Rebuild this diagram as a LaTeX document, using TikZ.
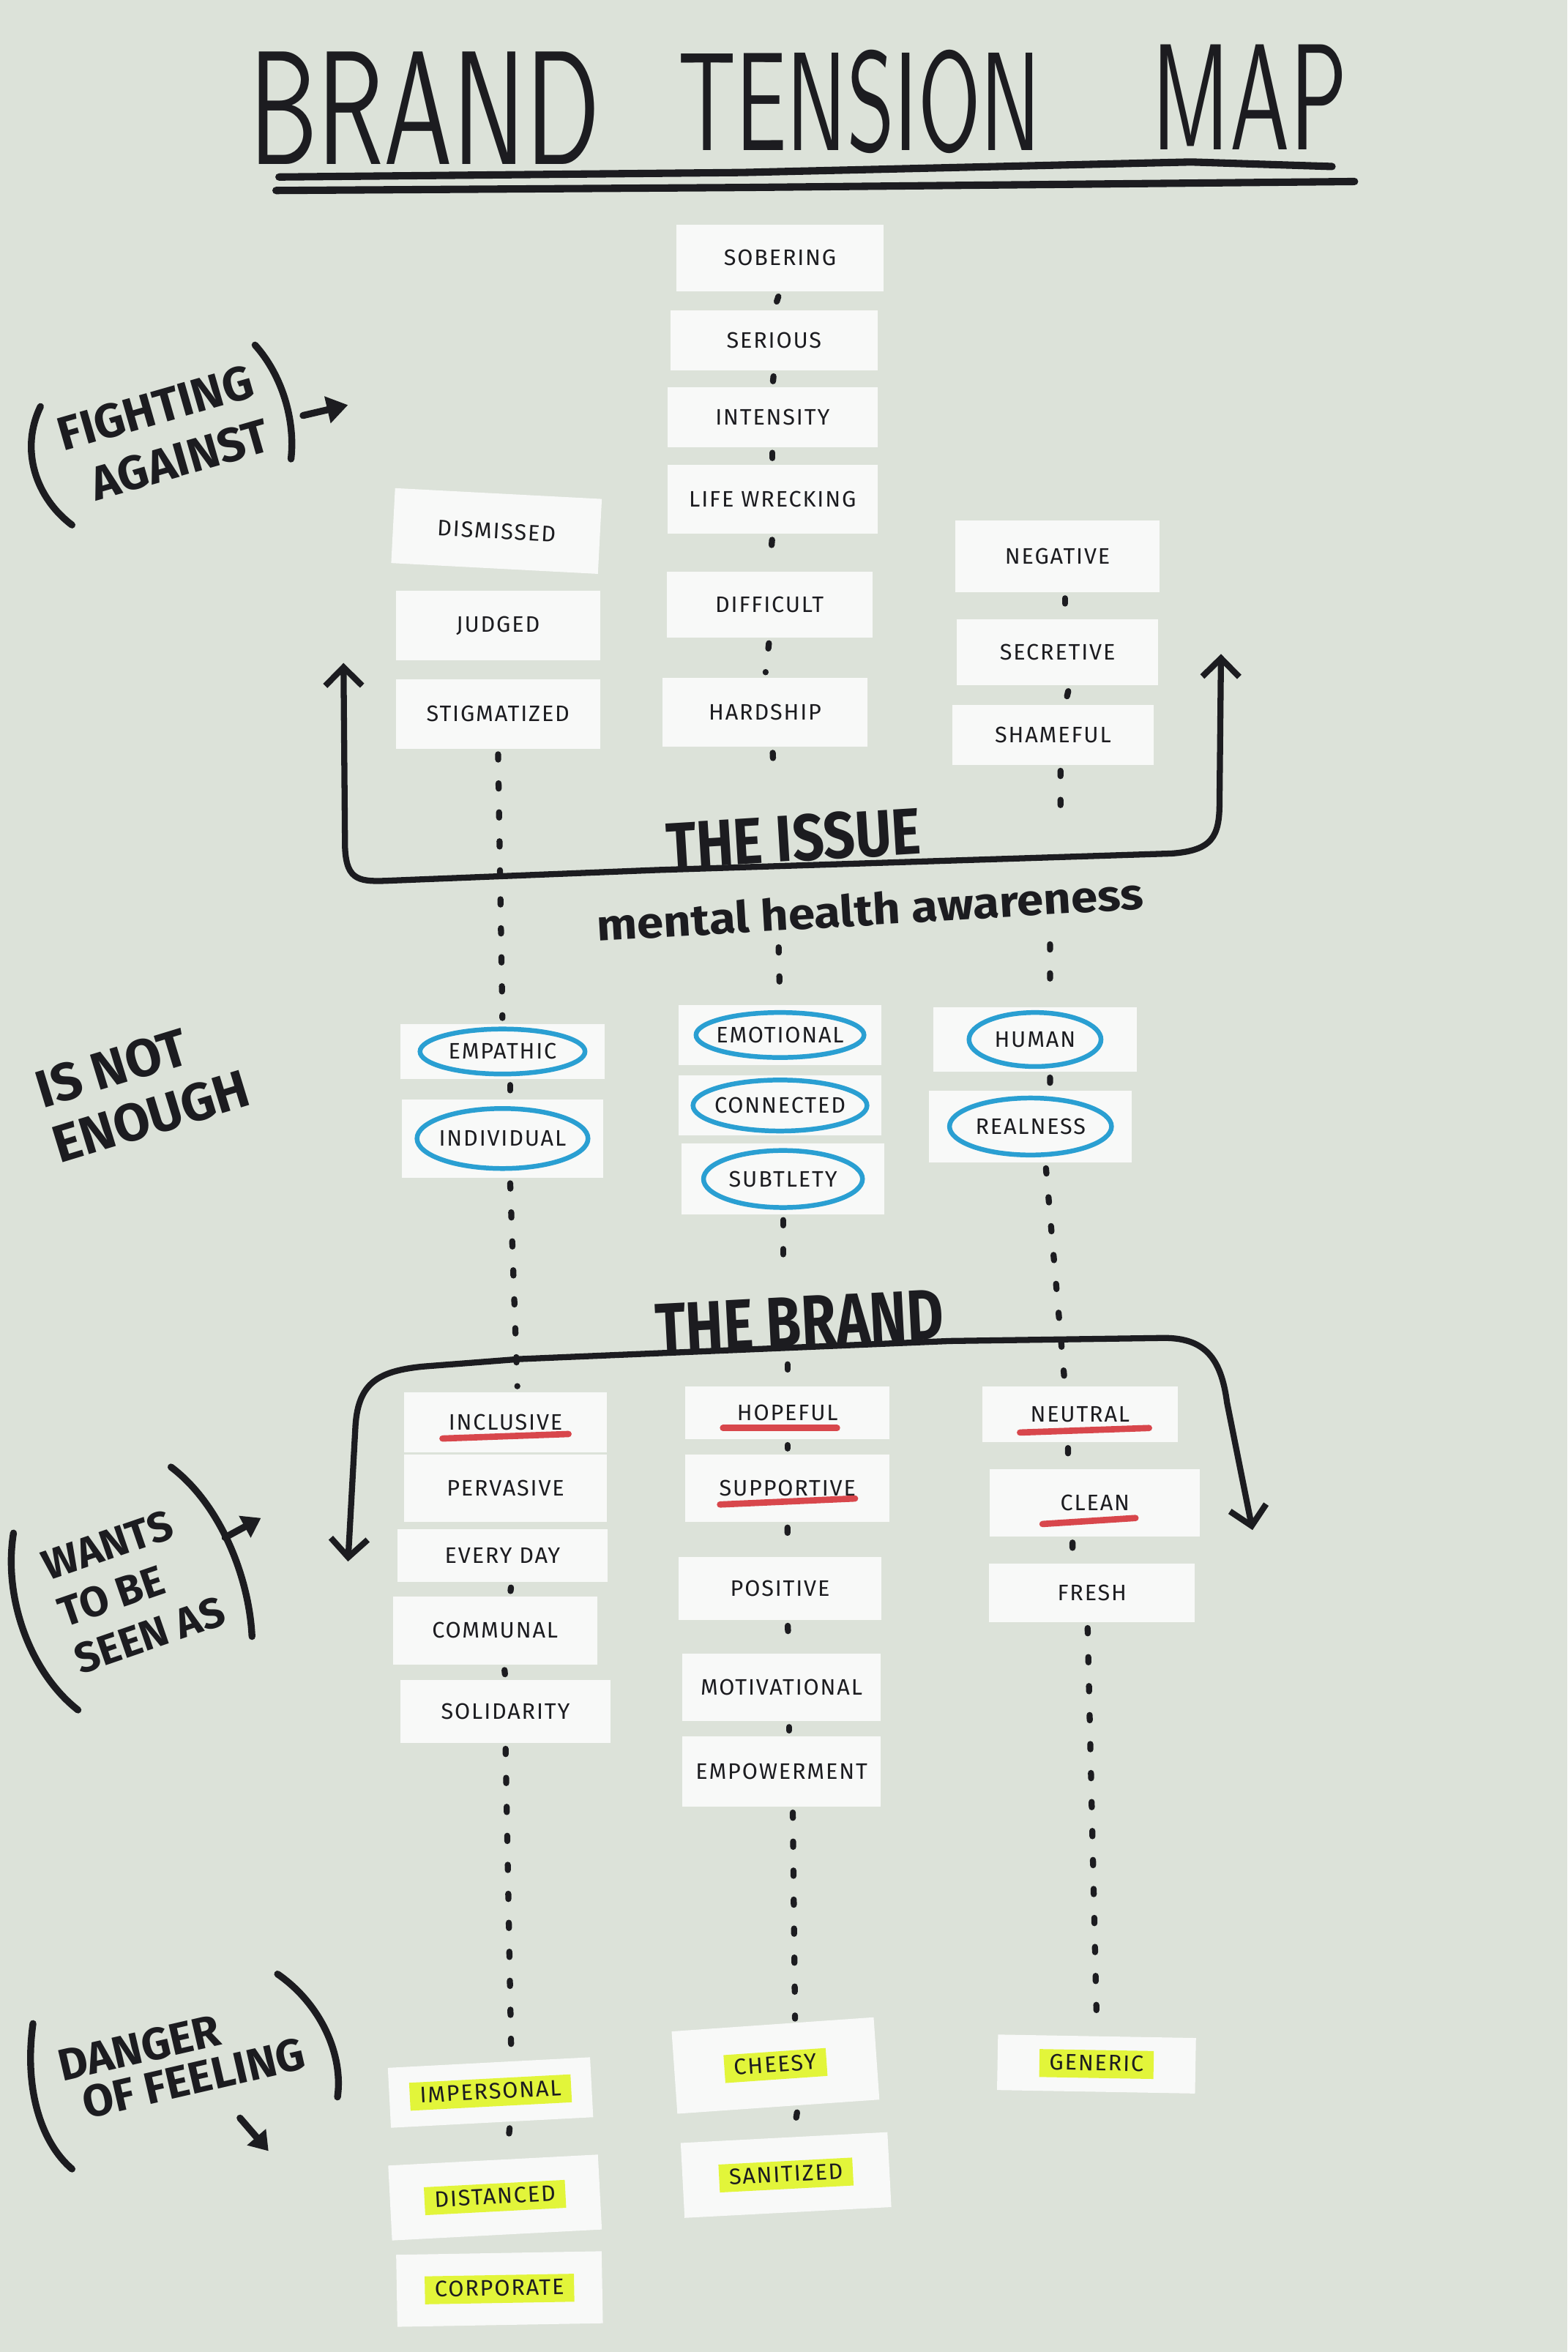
\documentclass[tikz,border=0pt]{standalone}
\usepackage{fontspec}
\setmainfont{Fira Sans}
\newfontfamily\cardfont{Fira Sans}[LetterSpace=6]
\usetikzlibrary{arrows.meta}
\definecolor{paper}{HTML}{DCE2D9}
\definecolor{cardw}{HTML}{F8F9F8}
\definecolor{ink}{HTML}{1C1C20}
\definecolor{ringblue}{HTML}{2A9FD2}
\definecolor{ulred}{HTML}{D8474C}
\definecolor{hly}{HTML}{E2F53A}
\newcommand\hlt[1]{{\setlength{\fboxsep}{0.8pt}\colorbox{hly}{\kern3pt\rule[-2pt]{0pt}{9pt}#1\kern3pt}}}
\begin{document}
\begin{tikzpicture}[x=0.02cm, y=-0.02cm,
  card/.style 2 args={fill=cardw, minimum width=#1*0.02cm, minimum height=#2*0.02cm, inner sep=0pt, text=ink, font=\cardfont\fontsize{8.5}{10}\selectfont},
  dotlink/.style={draw=ink, line width=2.3pt, line cap=round, dash pattern=on 2pt off 9pt, shorten <=2pt, shorten >=2pt},
  hand/.style 2 args={text=ink, inner sep=0pt, align=left, font=\bfseries\fontsize{#1}{#2}\selectfont},
  big/.style={text=ink, inner sep=0pt},
  titleline/.style={draw=ink, line width=2.8pt, line cap=round, line join=round},
  bracketline/.style={draw=ink, line width=2.3pt, line cap=round, line join=round},
  barbs/.style={{Straight Barb[length=7pt,width=14pt]}-{Straight Barb[length=7pt,width=14pt]}},
  paren/.style={draw=ink, line width=2.6pt, line cap=round},
  ring/.style={draw=ringblue, line width=1.8pt},
  uline/.style={draw=ulred, line width=2.4pt, line cap=round}
]
\useasboundingbox (0,0) rectangle (1045,1568);
\fill[paper] (0,0) rectangle (1045,1568);

% ---------- title ----------
\node[big] (tBrand) at (283,72) {\resizebox{4.68cm}{1.5cm}{\sffamily BRAND}};
\node[big] (tTension) at (573,68) {\resizebox{4.84cm}{1.34cm}{\sffamily TENSION}};
\node[big] (tMap) at (833,65) {\resizebox{2.6cm}{1.4cm}{\sffamily MAP}};
\draw[titleline] (186,118) -- (495,115) -- (794,108) -- (888,111);
\draw[titleline] (184,127) -- (495,125) -- (903,121);

% ---------- the issue cards ----------
\node[card={138}{44}] (sob) at (520,172) {SOBERING};
\node[card={138}{40}] (ser) at (516,227) {SERIOUS};
\node[card={140}{40}] (int) at (515,278) {INTENSITY};
\node[card={140}{46}] (lw) at (515,333) {LIFE WRECKING};
\node[card={137}{44}] (dif) at (513,403) {DIFFICULT};
\node[card={137}{46}] (hard) at (510,475) {HARDSHIP};
\node[card={138}{50}, rotate=-3] (dism) at (331,354) {DISMISSED};
\node[card={136}{46}] (judg) at (332,417) {JUDGED};
\node[card={136}{46}] (stig) at (332,476) {STIGMATIZED};
\node[card={136}{48}] (neg) at (705,371) {NEGATIVE};
\node[card={134}{44}] (secr) at (705,435) {SECRETIVE};
\node[card={134}{40}] (sham) at (702,490) {SHAMEFUL};

% ---------- not enough cards ----------
\node[card={136}{37}] (emp) at (335,701) {EMPATHIC};
\node[card={134}{52}] (indiv) at (335,759) {INDIVIDUAL};
\node[card={135}{40}] (emot) at (520,690) {EMOTIONAL};
\node[card={135}{40}] (conn) at (520,737) {CONNECTED};
\node[card={135}{47}] (subt) at (522,786) {SUBTLETY};
\node[card={136}{43}] (human) at (690,693) {HUMAN};
\node[card={135}{48}] (real) at (687,751) {REALNESS};
\draw[ring] (emp.center) ellipse [x radius=55, y radius=15];
\draw[ring] (indiv.center) ellipse [x radius=57, y radius=20];
\draw[ring] (emot.center) ellipse [x radius=56, y radius=15];
\draw[ring] (conn.center) ellipse [x radius=58, y radius=17];
\draw[ring] (subt.center) ellipse [x radius=53, y radius=19];
\draw[ring] (human.center) ellipse [x radius=44, y radius=18];
\draw[ring] (real.center) ellipse [x radius=54, y radius=19];

% ---------- brand cards ----------
\node[card={135}{40}] (incl) at (337,948) {INCLUSIVE};
\node[card={135}{45}] (perv) at (337,992) {PERVASIVE};
\node[card={140}{35}] (every) at (335,1037) {EVERY DAY};
\node[card={136}{45}] (comm) at (330,1087) {COMMUNAL};
\node[card={140}{42}] (soli) at (337,1141) {SOLIDARITY};
\node[card={136}{35}] (hope) at (525,942) {HOPEFUL};
\node[card={136}{45}] (supp) at (525,992) {SUPPORTIVE};
\node[card={135}{42}] (pos) at (520,1059) {POSITIVE};
\node[card={132}{45}] (motiv) at (521,1125) {MOTIVATIONAL};
\node[card={132}{47}] (empw) at (521,1181) {EMPOWERMENT};
\node[card={130}{37}] (neut) at (720,943) {NEUTRAL};
\node[card={140}{45}] (clean) at (730,1002) {CLEAN};
\node[card={137}{39}] (fresh) at (728,1062) {FRESH};
\draw[uline] (incl.center) ++(-42,11) -- ++(84,-3);
\draw[uline] (hope.center) ++(-43,10) -- ++(76,0);
\draw[uline] (supp.center) ++(-45,11) -- ++(90,-4);
\draw[uline] (neut.center) ++(-40,12) -- ++(86,-3);
\draw[uline] (clean.center) ++(-35,14) -- ++(62,-4);

% ---------- danger cards ----------
\node[card={135}{40}, rotate=3] (imp) at (327,1395) {\hlt{IMPERSONAL}};
\node[card={140}{50}, rotate=3] (dist) at (330,1465) {\hlt{DISTANCED}};
\node[card={137}{48}, rotate=1] (corp) at (333,1526) {\hlt{CORPORATE}};
\node[card={135}{55}, rotate=4] (cheesy) at (517,1377) {\hlt{CHEESY}};
\node[card={138}{50}, rotate=3] (sanit) at (524,1450) {\hlt{SANITIZED}};
\node[card={132}{37}, rotate=-1] (gen) at (731,1376) {\hlt{GENERIC}};

% ---------- headings ----------
\node[big, rotate=3.5] (issue) at (529,559) {\resizebox{3.4cm}{0.62cm}{\bfseries THE ISSUE}};
\node[big, rotate=3.4] (mha) at (580,606) {\resizebox{7.3cm}{0.44cm}{\bfseries mental health awareness}};
\node[big, rotate=3] (brand) at (533,881) {\resizebox{3.85cm}{0.66cm}{\bfseries THE BRAND}};

% ---------- side labels ----------
\node[hand={18}{21.5}, rotate=16] (lblFight) at (109,290) {FIGHTING\\\hspace*{0.24cm}AGAINST};
\node[hand={20}{22}, rotate=17] (lblEnough) at (95,726) {IS NOT\\ENOUGH};
\node[hand={16}{18.7}, rotate=19] (lblWants) at (89,1059) {WANTS\\TO BE\\SEEN AS};
\node[hand={17}{16}, rotate=13] (lblDanger) at (121,1373) {DANGER\\\hspace*{0.2cm}OF FEELING};

\draw[paren] (27,271) .. controls (13,300) and (24,332) .. (48,350);
\draw[paren] (170,230) .. controls (188,250) and (197,280) .. (194,306);
\draw[paren] (9,1022) .. controls (2,1065) and (20,1115) .. (52,1140);
\draw[paren] (114,978) .. controls (146,1002) and (166,1050) .. (168,1091);
\draw[paren] (22,1349) .. controls (16,1392) and (27,1428) .. (48,1446);
\draw[paren] (185,1316) .. controls (214,1336) and (229,1370) .. (225,1398);

\coordinate (fa1) at (202,277); \coordinate (fa2) at (232,270);
\coordinate (wa1) at (150,1025); \coordinate (wa2) at (174,1012);
\coordinate (da1) at (160,1412); \coordinate (da2) at (179,1434);
\draw[paren, -{Triangle[length=8pt,width=10pt]}] (fa1) -- (fa2);
\draw[paren, -{Triangle[length=7pt,width=9pt]}] (wa1) -- (wa2);
\draw[paren, -{Triangle[length=7pt,width=9pt]}] (da1) -- (da2);

% ---------- brackets ----------
\coordinate (iL) at (229,442); \coordinate (iR) at (814,436);
\draw[bracketline, barbs] (iL) -- (230,565) .. controls (231,588) and (240,588) .. (262,587)
   -- (438,580) -- (781,569) .. controls (808,567) and (813,558) .. (813,535) -- (iR);
\coordinate (bL) at (232,1041); \coordinate (bR) at (835,1020);
\draw[bracketline, barbs] (bL) -- (237,950) .. controls (239,922) and (252,914) .. (282,911)
   -- (347,906) -- (633,894) -- (773,892) .. controls (803,891) and (814,905) .. (818,935) -- (bR);

% ---------- dotted connectors ----------
\coordinate (cI1) at (516,522); \coordinate (cI2) at (519,628);
\coordinate (cR1) at (707,556); \coordinate (cR2) at (700,626);
\coordinate (cB1) at (522,840); \coordinate (cB2) at (525,906);

\draw[dotlink] (sob.south) -- (ser.north);
\draw[dotlink] (ser.south) -- (int.north);
\draw[dotlink] (int.south) -- (lw.north);
\draw[dotlink] (lw.south) -- (dif.north);
\draw[dotlink] (dif.south) -- (hard.north);
\draw[dotlink] ([xshift=0.1cm]hard.south) -- (cI1);
\draw[dotlink] (cI2) -- (emot.north);
\draw[dotlink] ([xshift=0.1cm]neg.south) -- ([xshift=0.1cm]secr.north);
\draw[dotlink] ([xshift=0.16cm]secr.south) -- ([xshift=0.16cm]sham.north);
\draw[dotlink] ([xshift=0.1cm]sham.south) -- (cR1);
\draw[dotlink] (cR2) -- ([xshift=0.2cm]human.north);
\draw[dotlink] (stig.south) -- (emp.north);
\draw[dotlink] ([xshift=0.1cm]emp.south) -- ([xshift=0.1cm]indiv.north);
\draw[dotlink] ([xshift=0.1cm]indiv.south) -- ([xshift=0.16cm]incl.north);
\draw[dotlink] (subt.south) -- (cB1);
\draw[dotlink] (cB2) -- (hope.north);
\draw[dotlink] ([xshift=0.2cm]human.south) -- ([xshift=0.26cm]real.north);
\draw[dotlink] ([xshift=0.2cm]real.south) -- ([xshift=-0.2cm]neut.north);
\draw[dotlink] (hope.south) -- (supp.north);
\draw[dotlink] (supp.south) -- ([xshift=0.1cm]pos.north);
\draw[dotlink] ([xshift=0.1cm]pos.south) -- ([xshift=0.1cm]motiv.north);
\draw[dotlink] ([xshift=0.1cm]motiv.south) -- ([xshift=0.1cm]empw.north);
\draw[dotlink] ([xshift=0.15cm]empw.south) -- ([xshift=0.3cm]cheesy.north);
\draw[dotlink] ([xshift=0.26cm]cheesy.south) -- ([xshift=0.12cm]sanit.north);
\draw[dotlink] ([xshift=0.12cm]every.south) -- ([xshift=0.2cm]comm.north);
\draw[dotlink] ([xshift=0.12cm]comm.south) -- (soli.north);
\draw[dotlink] (soli.south) -- ([xshift=0.3cm]imp.north);
\draw[dotlink] ([xshift=0.24cm]imp.south) -- ([xshift=0.18cm]dist.north);
\draw[dotlink] ([xshift=-0.16cm]neut.south) -- ([xshift=-0.36cm]clean.north);
\draw[dotlink] ([xshift=-0.3cm]clean.south) -- ([xshift=-0.26cm]fresh.north);
\draw[dotlink] ([xshift=-0.06cm]fresh.south) -- (gen.north);
\end{tikzpicture}
\end{document}
